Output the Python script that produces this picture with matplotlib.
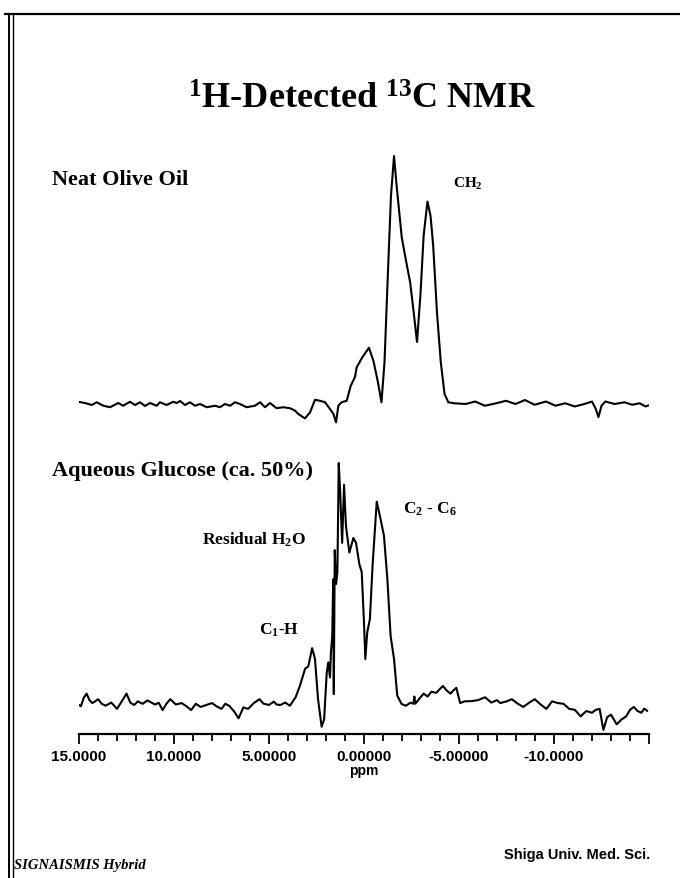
import matplotlib
matplotlib.use("Agg")
import matplotlib.pyplot as plt
from matplotlib.lines import Line2D
from matplotlib.ticker import MultipleLocator, FixedLocator

plt.rcParams['mathtext.default'] = 'regular'

# olive oil trace: ppm and intensity (% of main peak)
olive_ppm = [15.04, 14.68, 14.33, 14.07, 13.72, 13.37, 12.93, 12.68, 12.32, 12.05,
             11.79, 11.53, 11.26, 10.91, 10.74, 10.39, 10.04, 9.86, 9.68, 9.42,
             9.16, 8.89, 8.63, 8.28, 7.84, 7.58, 7.32, 7.05, 6.79, 6.53,
             6.18, 5.74, 5.47, 5.21, 4.95, 4.6, 4.25, 3.89, 3.63, 3.46,
             3.11, 2.84, 2.58, 2.32, 2.05, 1.79, 1.61, 1.47, 1.35, 1.18,
             0.91, 0.7, 0.47, 0.39, 0.1, -0.26, -0.5, -0.72, -0.92, -1.08,
             -1.28, -1.42, -1.58, -1.73, -1.99, -2.23, -2.43, -2.63, -2.79, -2.97,
             -3.14, -3.34, -3.5, -3.64, -3.84, -4.04, -4.24, -4.44, -4.74, -5.35,
             -5.85, -6.36, -6.96, -7.47, -7.97, -8.47, -8.98, -9.58, -10.08, -10.59,
             -11.09, -11.6, -12.0, -12.2, -12.34, -12.5, -12.7, -13.2, -13.71, -14.11,
             -14.51, -14.82, -15.0]
olive_int = [0.9, 0.4, -0.4, 0.7, -0.7, -1.3, 0.4, -0.7, 0.9, -0.4,
             0.7, -0.8, 0.4, -0.7, 0.7, -0.4, 0.9, 0.4, 1.2, -0.4,
             0.7, -0.7, 0.0, -1.3, -0.7, -1.3, 0.0, -0.7, 0.7, 0.0,
             -1.3, -0.7, 0.7, -1.3, 0.4, -1.7, -1.3, -1.7, -2.7, -4.0,
             -5.8, -3.4, 1.7, 1.3, 0.7, -2.0, -4.0, -7.4, -0.7, 0.7,
             1.3, 7.3, 11.0, 14.7, 18.7, 22.7, 17.3, 9.3, 0.7, 17.0,
             57.0, 84.0, 100.0, 87.0, 67.0, 57.0, 49.0, 36.0, 25.0, 44.0,
             68.0, 81.6, 76.0, 64.0, 37.0, 17.0, 4.0, 0.7, 0.3, 0.0,
             1.0, -0.7, 0.3, 1.3, 0.0, 1.6, -0.3, 1.0, -0.7, 0.3,
             -1.0, 0.0, 1.0, -2.0, -5.3, -0.7, 1.0, 0.0, 0.7, -0.3,
             0.3, -1.0, -0.5]

# aqueous glucose trace: ppm and intensity (% of main peak)
glucose_ppm = [15.0, 14.9, 14.75, 14.6, 14.45, 14.3, 14.15, 14.0, 13.8, 13.6,
               13.3, 13.0, 12.75, 12.5, 12.3, 12.1, 11.9, 11.65, 11.4, 11.0,
               10.8, 10.6, 10.4, 10.2, 9.9, 9.6, 9.35, 9.1, 8.85, 8.6,
               8.3, 8.0, 7.75, 7.5, 7.3, 7.1, 6.85, 6.6, 6.35, 6.1,
               5.8, 5.5, 5.3, 5.0, 4.75, 4.6, 4.4, 4.15, 3.9, 3.6,
               3.37, 3.1, 2.93, 2.73, 2.58, 2.42, 2.23, 2.1, 1.96, 1.88,
               1.79, 1.74, 1.67, 1.62, 1.59, 1.54, 1.47, 1.4, 1.33, 1.26,
               1.15, 1.05, 0.95, 0.77, 0.56, 0.42, 0.24, 0.12, 0.0, -0.07,
               -0.17, -0.31, -0.45, -0.67, -0.84, -1.05, -1.23, -1.4, -1.58, -1.75,
               -1.98, -2.21, -2.45, -2.6, -2.65, -2.7, -2.9, -3.14, -3.35, -3.55,
               -3.8, -4.15, -4.35, -4.55, -4.7, -4.86, -5.06, -5.3, -5.66, -6.0,
               -6.37, -6.7, -7.0, -7.18, -7.5, -7.78, -8.1, -8.38, -8.7, -8.99,
               -9.3, -9.6, -9.9, -10.2, -10.5, -10.8, -11.1, -11.4, -11.7, -12.0,
               -12.2, -12.4, -12.6, -12.8, -13.0, -13.15, -13.3, -13.55, -13.8, -14.0,
               -14.2, -14.4, -14.6, -14.75, -14.9]
glucose_int = [0.0, -0.5, 3.0, 4.7, 2.0, 0.8, 1.5, 2.4, 0.5, -0.3,
               1.0, -1.6, 1.5, 4.7, 1.0, 0.0, 1.5, 0.5, 1.9, 0.2,
               0.9, -2.1, 0.5, 2.4, 0.2, 0.8, -0.5, -2.1, 0.5, -0.8,
               0.0, 0.8, -0.6, -1.6, 0.5, -0.3, -2.5, -5.5, -1.0, -1.6,
               0.8, 2.4, 0.6, 0.0, 1.4, 0.2, 0.0, 1.0, -0.3, 3.2,
               8.0, 15.0, 16.0, 23.5, 19.0, 2.5, -9.0, -6.0, 13.5, 17.6,
               11.4, 21.8, 28.6, 52.0, 4.5, 64.0, 50.0, 55.0, 100.0, 89.0,
               67.0, 91.0, 74.0, 63.0, 69.0, 67.0, 58.0, 55.0, 34.0, 19.0,
               30.0, 35.5, 57.5, 84.0, 78.0, 70.0, 52.0, 28.6, 19.0, 3.9,
               0.4, -0.3, 1.0, 0.5, 3.5, 0.5, 2.5, 4.7, 3.5, 5.5,
               5.0, 7.9, 6.0, 4.7, 6.0, 7.1, 0.8, 1.5, 1.6, 2.0,
               3.2, 1.0, 2.0, 0.8, 1.5, 2.4, 0.5, -0.8, 1.0, 2.4,
               0.2, -1.6, 1.5, 0.8, 0.5, -1.6, -2.0, -4.7, -2.5, -3.2,
               -2.0, -1.6, -10.3, -5.0, -4.0, -6.0, -8.0, -6.0, -4.7, -2.0,
               -0.8, -2.5, -3.2, -1.5, -2.4]

major_ticks = [15, 10, 5, 0, -5, -10, -15]
tick_labels = ['15.0000', '10.0000', '5.00000', '0.00000', '-5.00000', '-10.0000', '']

W, H = 680, 879
fig = plt.figure(figsize=(W / 100, H / 100), dpi=100)
fig.patch.set_facecolor('white')

def fx(px):
    return px / W

def fy(py):
    return 1 - py / H

# plot area in pixels: ppm 15 -> x 79, -15 -> x 649; axis line at y 735
x0, x1 = 79, 649
y_axis, y_top = 735, 120
ax = fig.add_axes([fx(x0), fy(y_axis), (x1 - x0) / W, (y_axis - y_top) / H])
ax.set_xlim(15, -15)
ax.set_ylim(0, y_axis - y_top)

olive_base = y_axis - 405
olive_scale = 2.48
gluc_base = y_axis - 706
gluc_scale = 2.42
ax.plot(olive_ppm, [olive_base + v * olive_scale for v in olive_int], color='black', lw=1.5)
ax.plot(glucose_ppm, [gluc_base + v * gluc_scale for v in glucose_int], color='black', lw=1.5)

for s in ['top', 'right', 'left']:
    ax.spines[s].set_visible(False)
ax.spines['bottom'].set_linewidth(1.6)
ax.set_yticks([])
ax.xaxis.set_major_locator(FixedLocator(major_ticks))
ax.set_xticklabels(tick_labels, fontfamily='Liberation Sans', fontweight='bold', fontsize=11)
ax.xaxis.set_minor_locator(MultipleLocator(1))
ax.tick_params(axis='x', which='major', direction='out', length=7.5, width=1.3, pad=3)
ax.tick_params(axis='x', which='minor', direction='out', length=5, width=1.3)
ax.set_xlabel('ppm', fontfamily='Liberation Sans', fontweight='bold', fontsize=10, labelpad=0)
ax.patch.set_alpha(0)

serif = dict(fontfamily='Liberation Serif', fontweight='bold', color='black')
fig.text(fx(362), fy(100), r'$^{1}$H-Detected $^{13}$C NMR', ha='center', va='center', fontsize=26, **serif)
fig.text(fx(52), fy(180), 'Neat Olive Oil', ha='left', va='center', fontsize=16, **serif)
fig.text(fx(453), fy(184), r'CH$_{2}$', ha='left', va='center', fontsize=11, **serif)
fig.text(fx(52), fy(471), 'Aqueous Glucose (ca. 50%)', ha='left', va='center', fontsize=16, **serif)
fig.text(fx(202), fy(540), r'Residual H$_{2}$O', ha='left', va='center', fontsize=12.5, **serif)
fig.text(fx(403), fy(509), r'C$_{2}$ - C$_{6}$', ha='left', va='center', fontsize=12.5, **serif)
fig.text(fx(259), fy(630), r'C$_{1}$-H', ha='left', va='center', fontsize=12.5, **serif)

fig.text(fx(650), fy(855), 'Shiga Univ. Med. Sci.', ha='right', va='center',
         fontfamily='Liberation Sans', fontweight='bold', fontsize=10.5)
fig.text(fx(14), fy(866), 'SIGNAISMIS Hybrid', ha='left', va='center',
         fontfamily='Liberation Serif', fontweight='bold', fontstyle='italic', fontsize=10.5)

# scanned page frame
fig.add_artist(Line2D([fx(5), 1], [fy(15), fy(15)], color='black', lw=1.6))
fig.add_artist(Line2D([fx(9), fx(9)], [fy(15), 0], color='black', lw=1.4))
fig.add_artist(Line2D([fx(13), fx(13)], [fy(15), 0], color='black', lw=1.0))

fig.savefig('out.png', dpi=100)
